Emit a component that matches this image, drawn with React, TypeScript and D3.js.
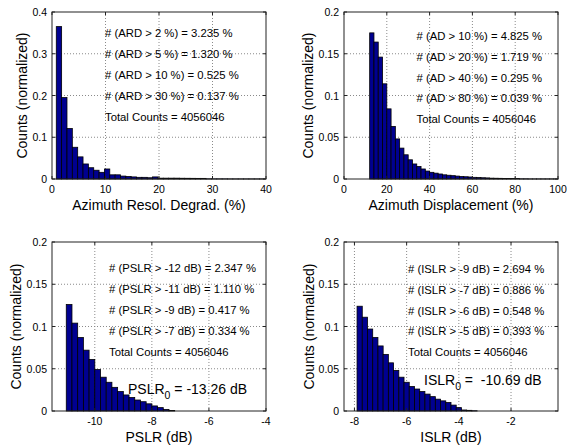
import React from "react";
import * as d3 from "d3";

// ---------- data ----------
const ardEdges = [0.8,1.8,2.8,3.8,4.8,5.8,6.8,7.8,8.8,9.8,10.8,11.8,12.8,13.8,14.8,15.8,16.8,17.8,18.8,19.8,20.8,21.8,22.8,23.8,24.8,25.8,26.8,27.8,28.8,29.8,30.8,31.8,32.8,33.8,34.8,35.8,36.8,37.8,38.8];
const ardValues = [0.365,0.195,0.121,0.076,0.053,0.036,0.027,0.021,0.016,0.024,0.010,0.010,0.007,0.006,0.005,0.004,0.004,0.003,0.005,0.002,0.002,0.002,0.002,0.0018,0.0017,0.0016,0.0015,0.0015,0.0004,0.0003,0.0003,0.0003,0.0002,0.0002,0.0002,0.0002,0.0002,0.0002,0.0002];
const ardBinWidth = 1;

const adEdges = [12,14,16,18,20,22,24,26,28,30,32,34,36,38,40,42,44,46,48,50,52,54,56,58,60,62,64,66,68,70,72,74,76,78,80,82,84,86,88,90,92,94,96,98];
const adValues = [0.175,0.164,0.146,0.114,0.084,0.063,0.048,0.037,0.029,0.023,0.018,0.015,0.012,0.0095,0.008,0.007,0.006,0.005,0.0045,0.004,0.0035,0.003,0.0027,0.0024,0.002,0.0018,0.0015,0.0013,0.001,0.0009,0.0008,0.0007,0.0006,0.0006,0.0005,0.0002,0.0002,0.0001,0.0001,0.0001,0.0001,0.0001,0.0001,0.0001];
const adBinWidth = 2;

const pslrEdges = [-11,-10.8,-10.6,-10.4,-10.2,-10,-9.8,-9.6,-9.4,-9.2,-9,-8.8,-8.6,-8.4,-8.2,-8,-7.8,-7.6,-7.4];
const pslrValues = [0.126,0.104,0.087,0.072,0.061,0.049,0.040,0.034,0.028,0.023,0.019,0.016,0.013,0.011,0.0085,0.006,0.004,0.0018,0.0005];
const pslrBinWidth = 0.2;

const islrEdges = [-7.9,-7.7,-7.5,-7.3,-7.1,-6.9,-6.7,-6.5,-6.3,-6.1,-5.9,-5.7,-5.5,-5.3,-5.1,-4.9,-4.7,-4.5,-4.3,-4.1,-3.9,-3.7,-3.5];
const islrValues = [0.124,0.111,0.097,0.087,0.077,0.067,0.057,0.048,0.040,0.034,0.029,0.026,0.023,0.020,0.017,0.014,0.012,0.010,0.007,0.004,0.0012,0.0008,0.0003];
const islrBinWidth = 0.2;

const ardXTicks = [0, 10, 20, 30, 40];
const ardYTicks = [0, 0.1, 0.2, 0.3, 0.4];
const adXTicks = [0, 20, 40, 60, 80, 100];
const adYTicks = [0, 0.05, 0.1, 0.15, 0.2];
const pslrXTicks = [-10, -8, -6, -4];
const islrXTicks = [-8, -6, -4, -2];
const lowYTicks = [0, 0.05, 0.1, 0.15, 0.2];

const ardNotes = ["# (ARD > 2 %) = 3.235 %", "# (ARD > 5 %) = 1.320 %", "# (ARD > 10 %) = 0.525 %", "# (ARD > 30 %) = 0.137 %", "Total Counts = 4056046"];
const adNotes = ["# (AD > 10 %) = 4.825 %", "# (AD > 20 %) = 1.719 %", "# (AD > 40 %) = 0.295 %", "# (AD > 80 %) = 0.039 %", "Total Counts = 4056046"];
const pslrNotes = ["# (PSLR > -12 dB) = 2.347 %", "# (PSLR > -11 dB) = 1.110 %", "# (PSLR > -9 dB) = 0.417 %", "# (PSLR > -7 dB) = 0.334 %", "Total Counts = 4056046"];
const islrNotes = ["# (ISLR > -9 dB) = 2.694 %", "# (ISLR > -7 dB) = 0.886 %", "# (ISLR > -6 dB) = 0.548 %", "# (ISLR > -5 dB) = 0.393 %", "Total Counts = 4056046"];

const FONT = "'Liberation Sans', Arial, Helvetica, sans-serif";

type PanelProps = {
  box: [number, number, number, number];
  xDomain: [number, number];
  yDomain: [number, number];
  xTicks: number[];
  yTicks: number[];
  edges: number[];
  values: number[];
  binWidth: number;
  notes: string[];
  noteX: number;
  noteY: number;
  noteStep: number;
  xLabel: string;
  yLabelX: number;
  special?: { main: string; rest: string; x: number; y: number };
};

function Panel(p: PanelProps) {
  const [x0, y0, x1, y1] = p.box;
  const x = d3.scaleLinear().domain(p.xDomain).range([x0, x1]);
  const y = d3.scaleLinear().domain(p.yDomain).range([y1, y0]);
  const fmt = (v: number) => (v === 0 ? "0" : String(v));
  return (
    <g>
      <rect x={x0} y={y0} width={x1 - x0} height={y1 - y0} fill="#fff" />
      {p.xTicks.filter((t) => t > p.xDomain[0] && t < p.xDomain[1]).map((t) => (
        <line key={"gx" + t} x1={x(t)} x2={x(t)} y1={y0} y2={y1} stroke="#8a8a8a" strokeWidth={1} strokeDasharray="1,2" />
      ))}
      {p.yTicks.filter((t) => t > p.yDomain[0] && t < p.yDomain[1]).map((t) => (
        <line key={"gy" + t} x1={x0} x2={x1} y1={y(t)} y2={y(t)} stroke="#8a8a8a" strokeWidth={1} strokeDasharray="1,2" />
      ))}
      {p.values.map((v, i) => (
        <rect
          key={"b" + i}
          x={x(p.edges[i])}
          y={y(v)}
          width={x(p.edges[i] + p.binWidth) - x(p.edges[i])}
          height={y(0) - y(v)}
          fill="#000090"
          stroke="#000"
          strokeWidth={0.8}
        />
      ))}
      {p.xTicks.map((t) => (
        <g key={"tx" + t}>
          <line x1={x(t)} x2={x(t)} y1={y1} y2={y1 - 3} stroke="#222" />
          <line x1={x(t)} x2={x(t)} y1={y0} y2={y0 + 3} stroke="#222" />
          <text x={x(t)} y={y1 + 14} fontSize={10.5} textAnchor="middle" fontFamily={FONT}>{fmt(t)}</text>
        </g>
      ))}
      {p.yTicks.map((t) => (
        <g key={"ty" + t}>
          <line x1={x0} x2={x0 + 3} y1={y(t)} y2={y(t)} stroke="#222" />
          <line x1={x1} x2={x1 - 3} y1={y(t)} y2={y(t)} stroke="#222" />
          <text x={x0 - 5} y={y(t) + 4} fontSize={10.5} textAnchor="end" fontFamily={FONT}>{fmt(t)}</text>
        </g>
      ))}
      <rect x={x0} y={y0} width={x1 - x0} height={y1 - y0} fill="none" stroke="#222" strokeWidth={1} />
      {p.notes.map((n, i) => (
        <text key={"n" + i} x={p.noteX} y={p.noteY + i * p.noteStep} fontSize={11.3} fontFamily={FONT}>{n}</text>
      ))}
      {p.special && (
        <text x={p.special.x} y={p.special.y} fontSize={14} fontFamily={FONT} style={{ whiteSpace: "pre" }}>
          {p.special.main}
          <tspan fontSize={10.5} dy={5}>0</tspan>
          <tspan dy={-5}>{p.special.rest}</tspan>
        </text>
      )}
      <text x={(x0 + x1) / 2} y={y1 + 31} fontSize={14} textAnchor="middle" fontFamily={FONT}>{p.xLabel}</text>
      <text
        transform={`translate(${p.yLabelX},${(y0 + y1) / 2}) rotate(-90)`}
        fontSize={14}
        textAnchor="middle"
        fontFamily={FONT}
      >Counts (normalized)</text>
    </g>
  );
}

export default function App() {
  return (
    <svg width={567} height={445} style={{ position: "absolute", left: 0, top: 0, background: "#fff" }}>
      <rect width={567} height={445} fill="#fff" />
      <Panel box={[52, 12, 266, 179]} xDomain={[0, 40]} yDomain={[0, 0.4]} xTicks={ardXTicks} yTicks={ardYTicks}
        edges={ardEdges} values={ardValues} binWidth={ardBinWidth} notes={ardNotes} noteX={105} noteY={36.6} noteStep={21}
        xLabel="Azimuth Resol. Degrad. (%)" yLabelX={27} />
      <Panel box={[344, 12, 558, 179]} xDomain={[0, 100]} yDomain={[0, 0.2]} xTicks={adXTicks} yTicks={adYTicks}
        edges={adEdges} values={adValues} binWidth={adBinWidth} notes={adNotes} noteX={416.5} noteY={40} noteStep={20.8}
        xLabel="Azimuth Displacement (%)" yLabelX={312.5} />
      <Panel box={[52, 242, 266, 411]} xDomain={[-11.5, -4]} yDomain={[0, 0.2]} xTicks={pslrXTicks} yTicks={lowYTicks}
        edges={pslrEdges} values={pslrValues} binWidth={pslrBinWidth} notes={pslrNotes} noteX={109} noteY={272.4} noteStep={20.85}
        xLabel="PSLR (dB)" yLabelX={21}
        special={{ main: "PSLR", rest: " = -13.26 dB", x: 128, y: 394 }} />
      <Panel box={[344, 242, 558, 411]} xDomain={[-8.4, -0.2]} yDomain={[0, 0.2]} xTicks={islrXTicks} yTicks={lowYTicks}
        edges={islrEdges} values={islrValues} binWidth={islrBinWidth} notes={islrNotes} noteX={408} noteY={273.2} noteStep={20.7}
        xLabel="ISLR (dB)" yLabelX={314}
        special={{ main: "ISLR", rest: " =  -10.69 dB", x: 424, y: 385 }} />
    </svg>
  );
}
